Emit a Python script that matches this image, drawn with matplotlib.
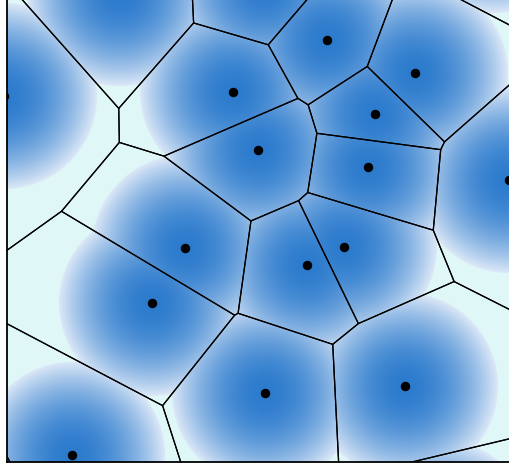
import numpy as np
import matplotlib
matplotlib.use("Agg")
import matplotlib.pyplot as plt
from matplotlib.patches import Polygon

# Voronoi sites (x, y) in chart units (y grows downward)
site_x = [4, 233, 327, 415, 375, 258, 368, 509, 185, 344, 307, 152, 265, 405, 72, 120, 264, 495, 440, -30]
site_y = [96, 92, 40, 73, 114, 150, 167, 180, 248, 247, 265, 303, 393, 386, 455, -7, -14, -80, 533, 510]
# which sites have a visible dot (inside the view)
visible = [1] * 15 + [0] * 5

radius = 93
center_color = np.array([44, 123, 205]) / 255
edge_color = np.array([220, 232, 247]) / 255
bg_color = np.array([224, 247, 248]) / 255

W, H = 509, 467
fig = plt.figure(figsize=(W / 100, H / 100), dpi=100)
x0, x1, y0, y1 = 7, 509, 0, 462
ax = fig.add_axes([x0 / W, (H - y1) / H, (x1 - x0) / W, (y1 - y0) / H])
ax.set_xlim(x0, x1)
ax.set_ylim(y1, y0)

sx = np.array(site_x, float)
sy = np.array(site_y, float)

# gradient image: radial gradient from each site, within its own cell
gx = np.arange(x0, x1, 0.5) + 0.25
gy = np.arange(y0, y1, 0.5) + 0.25
X, Y = np.meshgrid(gx, gy)
D = np.min(np.sqrt((X[..., None] - sx) ** 2 + (Y[..., None] - sy) ** 2), axis=-1)
t = np.clip(D / radius, 0, 1)[..., None] ** 1.9
img = center_color * (1 - t) + edge_color * t
img[D > radius] = bg_color
ax.imshow(img, extent=(x0, x1, y1, y0), origin="upper", interpolation="bilinear", zorder=0)


def clip(poly, a, b, c):
    out = []
    n = len(poly)
    for i in range(n):
        p, q = poly[i], poly[(i + 1) % n]
        fp = a * p[0] + b * p[1] - c
        fq = a * q[0] + b * q[1] - c
        if fp <= 0:
            out.append(p)
        if (fp < 0) != (fq < 0) and fp != fq:
            s = fp / (fp - fq)
            out.append((p[0] + s * (q[0] - p[0]), p[1] + s * (q[1] - p[1])))
    return out


box = [(-200, -200), (800, -200), (800, 800), (-200, 800)]
for i in range(len(sx)):
    poly = list(box)
    for j in range(len(sx)):
        if i == j:
            continue
        a = 2 * (sx[j] - sx[i])
        b = 2 * (sy[j] - sy[i])
        c = sx[j] ** 2 + sy[j] ** 2 - sx[i] ** 2 - sy[i] ** 2
        poly = clip(poly, a, b, c)
    if len(poly) >= 3:
        ax.add_patch(Polygon(poly, closed=True, fill=False, edgecolor="black", linewidth=0.9, zorder=2))

vx = [x for x, v in zip(site_x, visible) if v]
vy = [y for y, v in zip(site_y, visible) if v]
ax.plot(vx, vy, "o", color="black", markersize=5.8, zorder=3)

for s in ["top", "right"]:
    ax.spines[s].set_visible(False)
for s in ["left", "bottom"]:
    ax.spines[s].set_linewidth(1.3)
    ax.spines[s].set_color("black")
ax.set_xticks([])
ax.set_yticks([])

fig.savefig("out.png", dpi=100)
